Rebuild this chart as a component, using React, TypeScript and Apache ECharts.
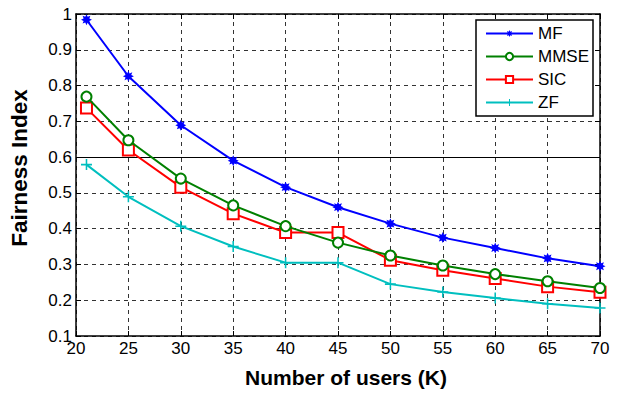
import React, { useEffect, useRef } from "react";
import * as echarts from "echarts";

const users = [21, 25, 30, 35, 40, 45, 50, 55, 60, 65, 70];
const mf = [0.984, 0.826, 0.689, 0.59, 0.516, 0.46, 0.414, 0.375, 0.346, 0.317, 0.295];
const mmse = [0.769, 0.647, 0.54, 0.465, 0.407, 0.361, 0.325, 0.297, 0.273, 0.253, 0.234];
const sic = [0.737, 0.62, 0.516, 0.442, 0.389, 0.389, 0.312, 0.284, 0.261, 0.238, 0.222];
const zf = [0.579, 0.489, 0.407, 0.35, 0.305, 0.305, 0.245, 0.223, 0.206, 0.19, 0.178];
const refLine = 0.6;

const FONT = "Liberation Sans, Arial, sans-serif";
const STAR =
  "path://M5,0 L2.6,1.1 L3.54,3.54 L1.1,2.6 L0,5 L-1.1,2.6 L-3.54,3.54 L-2.6,1.1 L-5,0 L-2.6,-1.1 L-3.54,-3.54 L-1.1,-2.6 L0,-5 L1.1,-2.6 L3.54,-3.54 L2.6,-1.1 Z";
const PLUS = "path://M-0.7,-5 H0.7 V-0.7 H5 V0.7 H0.7 V5 H-0.7 V0.7 H-5 V-0.7 H-0.7 Z";

const pairs = (ys: number[]) => users.map((x, i) => [x, ys[i]]);

export default function App() {
  const ref = useRef<HTMLDivElement>(null);
  useEffect(() => {
    if (!ref.current) return;
    const chart = echarts.init(ref.current, undefined, { renderer: "svg" });
    const grid = { left: 72, right: 21, top: 14, bottom: 56 };
    const gridLine = { show: true, lineStyle: { color: "#333", type: [4, 4] as any, width: 1 } };
    const tick = { show: true, inside: true, length: 5, lineStyle: { color: "#000" } };
    chart.setOption({
      animation: false,
      backgroundColor: "#fff",
      grid,
      legend: {
        orient: "vertical",
        left: 476,
        top: 20,
        backgroundColor: "#fff",
        borderColor: "#000",
        borderWidth: 1.5,
        padding: [5, 4, 5, 9],
        itemWidth: 47,
        itemHeight: 9,
        itemGap: 6,
        borderRadius: 0,
        textStyle: { fontFamily: FONT, fontSize: 17, lineHeight: 17, color: "#000" },
        data: ["MF", "MMSE", "SIC", "ZF"],
      },
      xAxis: [
        {
          type: "value",
          min: 20,
          max: 70,
          interval: 5,
          name: "Number of users (K)",
          nameLocation: "middle",
          nameGap: 31,
          nameTextStyle: {
            fontFamily: FONT,
            fontSize: 21,
            fontWeight: "bold",
            color: "#000",
            padding: [0, 0, 0, 16],
          },
          axisLine: { show: true, lineStyle: { color: "#000", width: 1.5 } },
          axisTick: tick,
          axisLabel: { fontFamily: FONT, fontSize: 17, color: "#000", margin: 4 },
          splitLine: gridLine,
        },
        {
          type: "value",
          position: "top",
          min: 20,
          max: 70,
          interval: 5,
          axisLine: { show: true, lineStyle: { color: "#000", width: 1.5 } },
          axisTick: tick,
          axisLabel: { show: false },
          splitLine: { show: false },
        },
      ],
      yAxis: [
        {
          type: "value",
          min: 0.1,
          max: 1,
          interval: 0.1,
          name: "Fairness Index",
          nameLocation: "middle",
          nameGap: 45,
          nameTextStyle: {
            fontFamily: FONT,
            fontSize: 22.5,
            fontWeight: "bold",
            color: "#000",
            padding: [0, 0, 0, 14],
          },
          axisLine: { show: true, lineStyle: { color: "#000", width: 1.5 } },
          axisTick: tick,
          axisLabel: {
            fontFamily: FONT,
            fontSize: 17,
            color: "#000",
            margin: 4,
            formatter: (v: number) => String(Math.round(v * 10) / 10),
          },
          splitLine: gridLine,
        },
        {
          type: "value",
          position: "right",
          min: 0.1,
          max: 1,
          interval: 0.1,
          axisLine: { show: true, lineStyle: { color: "#000", width: 1.5 } },
          axisTick: tick,
          axisLabel: { show: false },
          splitLine: { show: false },
        },
      ],
      series: [
        {
          name: "MF",
          type: "line",
          data: pairs(mf),
          color: "#0000ff",
          lineStyle: { width: 2, color: "#0000ff" },
          symbol: STAR,
          symbolSize: 11,
          itemStyle: { color: "#0000ff" },
          z: 5,
          markLine: {
            silent: true,
            symbol: "none",
            label: { show: false },
            lineStyle: { color: "#000", type: "solid", width: 1 },
            data: [{ yAxis: refLine }],
            z: 1,
          },
        },
        {
          name: "MMSE",
          type: "line",
          data: pairs(mmse),
          color: "#008000",
          lineStyle: { width: 2, color: "#008000" },
          symbol: "emptyCircle",
          symbolSize: 10,
          itemStyle: { color: "#008000", borderWidth: 1.8 },
          z: 4,
        },
        {
          name: "SIC",
          type: "line",
          data: pairs(sic),
          color: "#ff0000",
          lineStyle: { width: 2, color: "#ff0000" },
          symbol: "emptyRect",
          symbolSize: 11,
          itemStyle: { color: "#ff0000", borderWidth: 1.8 },
          z: 3,
        },
        {
          name: "ZF",
          type: "line",
          data: pairs(zf),
          color: "#00bfbf",
          lineStyle: { width: 2, color: "#00bfbf" },
          symbol: PLUS,
          symbolSize: 11,
          itemStyle: { color: "#00bfbf" },
          z: 2,
        },
      ],
    });
    return () => chart.dispose();
  }, []);
  return <div ref={ref} style={{ width: 621, height: 393, position: "absolute", left: 0, top: 0 }} />;
}
